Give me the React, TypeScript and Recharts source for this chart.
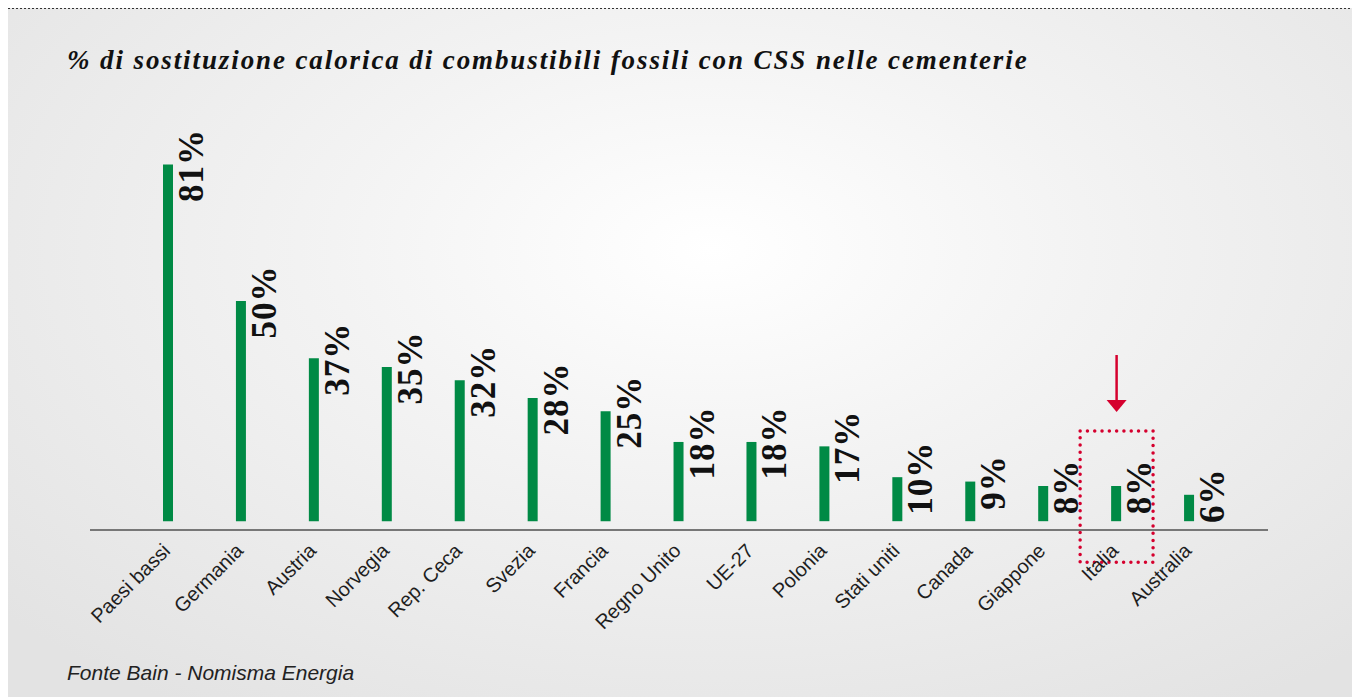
import React from "react";
import { BarChart, Bar, XAxis, YAxis, LabelList, ReferenceArea, ReferenceDot } from "recharts";

const countries = ["Paesi bassi", "Germania", "Austria", "Norvegia", "Rep. Ceca", "Svezia", "Francia", "Regno Unito", "UE-27", "Polonia", "Stati uniti", "Canada", "Giappone", "Italia", "Australia"];
const shares = [81, 50, 37, 35, 32, 28, 25, 18, 18, 17, 10, 9, 8, 8, 6];
const highlighted = "Italia";
const titleText = "% di sostituzione calorica di combustibili fossili con CSS nelle cementerie";
const sourceText = "Fonte Bain - Nomisma Energia";

const data = countries.map((c, i) => ({ country: c, value: shares[i] }));

const GREEN = "#008A45";
const RED = "#D5002E";

const XTick = (props: any) => {
  const { x, y, payload } = props;
  return (
    <text
      x={x + 3}
      y={y + 14}
      transform={`rotate(-45, ${x + 3}, ${y + 14})`}
      textAnchor="end"
      fontFamily="'Liberation Sans', Arial, sans-serif"
      fontSize={20}
      fill="#1e1e1e"
    >
      {payload.value}
    </text>
  );
};

const ValueLabel = (props: any) => {
  const { x, y, width, value } = props;
  const ax = x + width / 2 + 35;
  const ay = y + 1;
  return (
    <text
      x={ax}
      y={ay}
      transform={`rotate(-90, ${ax}, ${ay})`}
      textAnchor="middle"
      fontFamily="'Liberation Serif', 'Times New Roman', serif"
      fontWeight="bold"
      fontSize={35}
      letterSpacing={1}
      fill="#111"
    >
      {`${value}%`}
    </text>
  );
};

const Arrow = (props: any) => {
  const { cx, cy } = props;
  return (
    <g>
      <line x1={cx} y1={cy - 57} x2={cx} y2={cy - 10} stroke={RED} strokeWidth={2.5} />
      <polygon points={`${cx - 10},${cy - 12} ${cx + 10},${cy - 12} ${cx},${cy}`} fill={RED} />
    </g>
  );
};

export default function App() {
  return (
    <div
      style={{
        position: "relative",
        width: 1352,
        height: 689,
        background: "radial-gradient(ellipse 70% 80% at 52% 35%, #ffffff 0%, #f3f3f3 40%, #e3e3e3 100%)",
        overflow: "hidden",
      }}
    >
      <div
        style={{
          position: "absolute",
          left: 0,
          top: 0,
          width: 1352,
          height: 1,
          backgroundImage: "repeating-linear-gradient(to right, #333 0px, #333 2px, transparent 2px, transparent 4px)",
        }}
      />
      <div
        style={{
          position: "absolute",
          left: 59,
          top: 39,
          fontFamily: "'Liberation Serif', 'Times New Roman', serif",
          fontWeight: "bold",
          fontStyle: "italic",
          fontSize: 27,
          letterSpacing: 1.9,
          color: "#111",
          whiteSpace: "nowrap",
          lineHeight: 1,
        }}
      >
        {titleText}
      </div>
      <div
        style={{
          position: "absolute",
          left: 59,
          top: 654,
          fontFamily: "'Liberation Sans', Arial, sans-serif",
          fontStyle: "italic",
          fontSize: 21,
          color: "#222",
          whiteSpace: "nowrap",
          lineHeight: 1,
        }}
      >
        {sourceText}
      </div>
      <div style={{ position: "absolute", left: 0, top: 0 }}>
        <BarChart
          width={1352}
          height={689}
          data={data}
          margin={{ top: 117, right: 92, bottom: 137, left: 82 }}
          barSize={10}
        >
          <XAxis
            dataKey="country"
            height={30}
            interval={0}
            padding={{ left: 42, right: 42 }}
            axisLine={{ stroke: "#777", strokeWidth: 2 }}
            tickLine={false}
            tick={<XTick />}
          />
          <YAxis hide domain={[-2, 90]} type="number" allowDataOverflow />
          <Bar dataKey="value" fill={GREEN} isAnimationActive={false}>
            <LabelList dataKey="value" content={<ValueLabel />} />
          </Bar>
          <ReferenceArea
            x1={highlighted}
            x2={highlighted}
            y1={-9.3}
            y2={20.5}
            ifOverflow="visible"
            fill="none"
            fillOpacity={0}
            stroke={RED}
            strokeWidth={3.5}
            strokeDasharray="0 7.3"
            strokeLinecap="round"
          />
          <ReferenceDot
            x={highlighted}
            y={24.8}
            ifOverflow="visible"
            shape={<Arrow />}
          />
        </BarChart>
      </div>
    </div>
  );
}
